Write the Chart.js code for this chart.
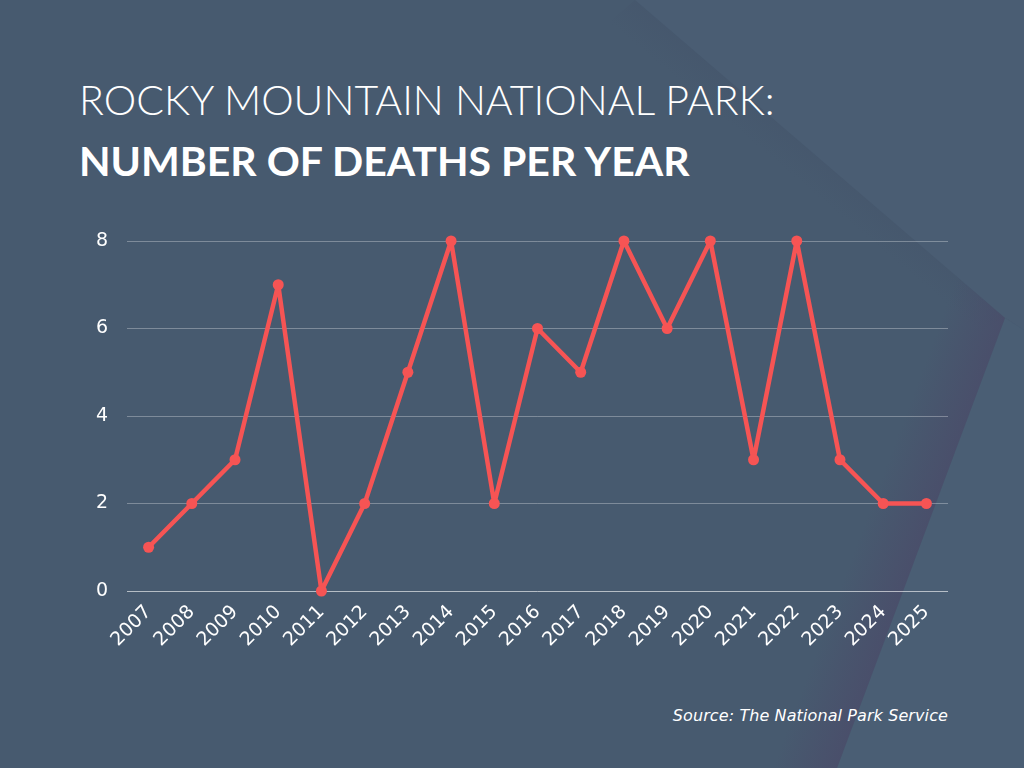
<!DOCTYPE html>
<html>
<head>
<meta charset="utf-8">
<script src="https://cdn.jsdelivr.net/npm/chart.js@4.4.1/dist/chart.umd.min.js"></script>
<style>
  html, body { margin: 0; padding: 0; }
  body { width: 1024px; height: 768px; position: relative; overflow: hidden; background: #475a6f; }
  #bg { position: absolute; left: 0; top: 0; }
  .t1, .t2, .src { position: absolute; color: #ffffff; margin: 0; white-space: nowrap; }
  .t1 { left: 79px; top: 75px; font: 300 41px "Lato", sans-serif; }
  .t2 { left: 79px; top: 136px; font: 700 41px "Lato", sans-serif; }
  .src { right: 76px; top: 706px; font: italic 16px "DejaVu Sans", sans-serif; letter-spacing: 0.1px; }
  #wrap { position: absolute; left: 0; top: 0; width: 1024px; height: 768px; }
</style>
</head>
<body>
<svg id="bg" width="1024" height="768">
  <defs>
    <linearGradient id="edge" gradientUnits="userSpaceOnUse" x1="921" y1="543" x2="865" y2="522">
      <stop offset="0" stop-color="#4a4d6a" stop-opacity="0.85"/>
      <stop offset="1" stop-color="#4a4d6a" stop-opacity="0"/>
    </linearGradient>
    <linearGradient id="edgeTop" gradientUnits="userSpaceOnUse" x1="820" y1="158" x2="800" y2="182">
      <stop offset="0" stop-color="#44536a" stop-opacity="0.35"/>
      <stop offset="1" stop-color="#44536a" stop-opacity="0"/>
    </linearGradient>
  </defs>
  <polygon points="635,0 1024,0 1024,330 1005,318" fill="#4a5d73"/>
  <polygon points="1005,318 1024,330 1024,768 837,768" fill="#4a5e74"/>
  <polygon points="635,0 1005,318 960,340 600,30" fill="url(#edgeTop)"/>
  <polygon points="1005,318 837,768 720,768 925,249" fill="url(#edge)"/>
</svg>
<div class="t1">ROCKY MOUNTAIN NATIONAL PARK:</div>
<div class="t2">NUMBER OF DEATHS PER YEAR</div>
<div class="src">Source: The National Park Service</div>
<div id="wrap"><canvas id="chart" width="1024" height="768"></canvas></div>
<script>
var years = ['2007', '2008', '2009', '2010', '2011', '2012', '2013', '2014', '2015', '2016',
             '2017', '2018', '2019', '2020', '2021', '2022', '2023', '2024', '2025'];
var deaths = [1, 2, 3, 7, 0, 2, 5, 8, 2, 6, 5, 8, 6, 8, 3, 8, 3, 2, 2];
var yTicks = [0, 2, 4, 6, 8];

var lineRed = '#f65454';
var tickFont = { family: 'DejaVu Sans', size: 19, weight: 'normal' };

new Chart(document.getElementById('chart').getContext('2d'), {
    type: 'line',
    data: {
        labels: years,
        datasets: [{
            label: 'Deaths',
            data: deaths,
            borderColor: lineRed,
            backgroundColor: lineRed,
            borderWidth: 4.5,
            borderJoinStyle: 'round',
            borderCapStyle: 'round',
            pointRadius: 5.5,
            pointBorderWidth: 0,
            tension: 0,
            clip: false
        }]
    },
    options: {
        responsive: false,
        animation: false,
        devicePixelRatio: 1,
        layout: { padding: { left: 60, right: 76, top: 241, bottom: 97 } },
        plugins: { legend: { display: false }, tooltip: { enabled: false } },
        scales: {
            x: {
                offset: true,
                grid: { display: false },
                border: { display: false },
                ticks: {
                    color: '#ffffff',
                    font: tickFont,
                    minRotation: 45,
                    maxRotation: 45,
                    autoSkip: false,
                    padding: 2
                },
                afterFit: function (scale) { scale.height = 80; }
            },
            y: {
                min: 0,
                max: 8,
                afterBuildTicks: function (scale) {
                    scale.ticks = yTicks.map(function (v) { return { value: v }; });
                },
                grid: {
                    drawTicks: false,
                    lineWidth: 1,
                    color: function (ctx) {
                        return ctx.tick && ctx.tick.value === 0 ? 'rgba(255,255,255,0.6)' : 'rgba(255,255,255,0.3)';
                    }
                },
                border: { display: false },
                ticks: {
                    color: '#ffffff',
                    font: tickFont,
                    padding: 19
                },
                afterFit: function (scale) { scale.width = 67; }
            }
        }
    }
});
</script>
</body>
</html>
